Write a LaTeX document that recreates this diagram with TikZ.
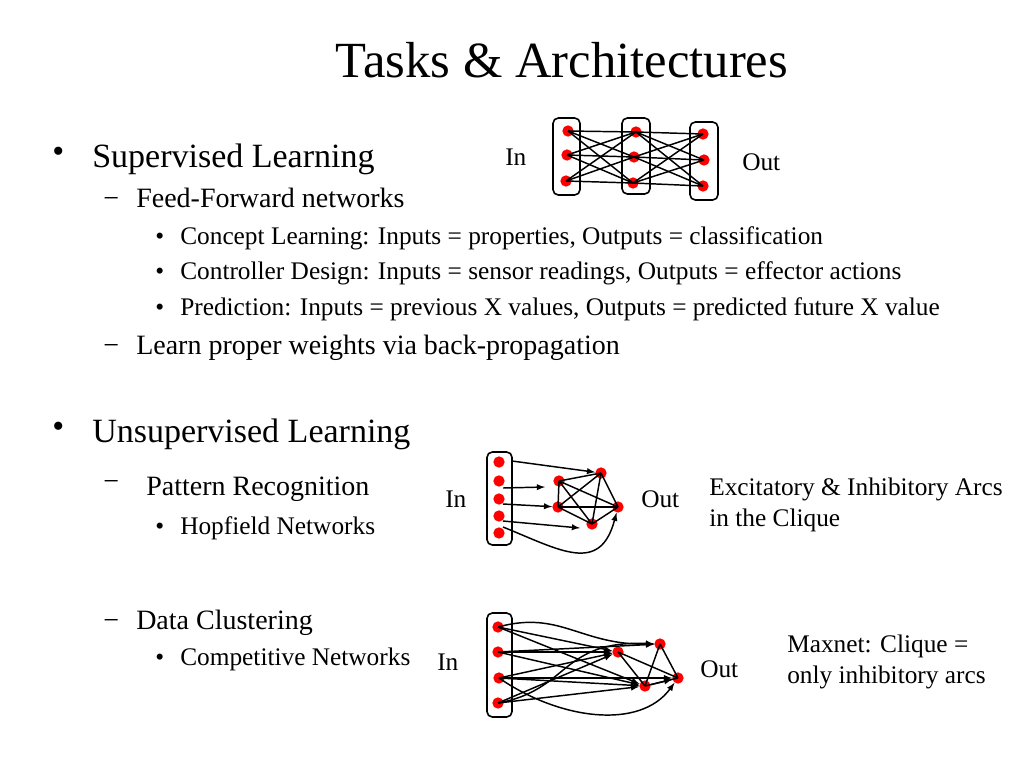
\documentclass[tikz,border=0pt]{standalone}
\usepackage{fontspec}
\setmainfont{Liberation Serif}
\begin{document}
\begin{tikzpicture}[x=0.75pt,y=-0.75pt,
  dot/.style={circle,fill=red,inner sep=0pt,minimum size=8.5pt},
  box/.style={draw,line width=1.2pt,rounded corners=4pt},
  ln/.style={line width=1.1pt},
  ar/.style={line width=1.1pt,-latex},
  t1/.style={anchor=base west,font=\fontsize{25.5}{30}\selectfont,inner sep=0pt},
  t2/.style={anchor=base west,font=\fontsize{21}{25}\selectfont,inner sep=0pt},
  t3/.style={anchor=base west,font=\fontsize{19}{23}\selectfont,inner sep=0pt},
  lab/.style={anchor=base west,font=\fontsize{19}{22}\selectfont,inner sep=0pt}]
\useasboundingbox (0,0) rectangle (1024,768);
\node[font=\fontsize{38}{44}\selectfont] (title) at (562,60) {Tasks \& Architectures};
% text
\node[t1] (b1) at (52,162) {•};
\node[t1] (s1) at (92,167) {Supervised Learning};
\node[t2] (d1) at (103,207) {−};
\node[t2] (ff) at (136,207) {Feed-Forward networks};
\node[t3] (c1) at (155,244) {•};
\node[t3] (c1t) at (180,244) {Concept Learning: Inputs = properties, Outputs = classification};
\node[t3] (c2) at (155,279) {•};
\node[t3] (c2t) at (180,279) {Controller Design: Inputs = sensor readings, Outputs = effector actions};
\node[t3] (c3) at (155,315) {•};
\node[t3] (c3t) at (180,315) {Prediction: Inputs = previous X values, Outputs = predicted future X value};
\node[t2] (d2) at (103,354) {−};
\node[t2] (lw) at (136,354) {Learn proper weights via back-propagation};
\node[t1] (b2) at (52,437) {•};
\node[t1] (s2) at (92,442) {Unsupervised Learning};
\node[t2] (d3) at (103,490) {−};
\node[t2] (pr) at (146,495) {Pattern Recognition};
\node[t3] (h1) at (155,534) {•};
\node[t3] (h1t) at (180,534) {Hopfield Networks};
\node[t2] (d4) at (103,629) {−};
\node[t2] (dc) at (136,629) {Data Clustering};
\node[t3] (k1) at (155,665) {•};
\node[t3] (k1t) at (180,665) {Competitive Networks};
% diagram 1
\node[lab] (in1) at (505,165) {In};
\node[lab] (out1) at (742,170) {Out};
\draw[box] (553,118) rectangle (580,195);
\draw[box] (622,118) rectangle (650,194);
\draw[box] (690,122) rectangle (718,200);
\node[dot] (a1) at (568,131) {}; \node[dot] (a2) at (567,155) {}; \node[dot] (a3) at (566,181) {};
\node[dot] (m1) at (636,132) {}; \node[dot] (m2) at (634,157) {}; \node[dot] (m3) at (633,183) {};
\node[dot] (o1) at (703,134) {}; \node[dot] (o2) at (704,160) {}; \node[dot] (o3) at (703,186) {};
\foreach \i in {a1,a2,a3}{\foreach \j in {m1,m2,m3}{\draw[ln] (\i.center)--(\j.center);}}
\foreach \i in {m1,m2,m3}{\foreach \j in {o1,o2,o3}{\draw[ln] (\i.center)--(\j.center);}}
% diagram 2
\node[lab] (in2) at (445,507) {In};
\node[lab] (out2) at (641,507) {Out};
\node[lab] (ex1) at (709,495) {Excitatory \& Inhibitory Arcs};
\node[lab] (ex2) at (709,526) {in the Clique};
\draw[box] (487,452) rectangle (512,545);
\node[dot] (i1) at (499,462) {}; \node[dot] (i2) at (499,481) {}; \node[dot] (i3) at (499,499) {};
\node[dot] (i4) at (499,516) {}; \node[dot] (i5) at (499,533) {};
\node[dot] (A) at (559,481) {}; \node[dot] (B) at (558,507) {}; \node[dot] (C) at (601,473) {};
\node[dot] (D) at (592,524) {}; \node[dot] (E) at (618,507) {};
\foreach \p/\q in {A/B,A/C,A/D,A/E,B/C,B/D,B/E,C/D,C/E,D/E}{\draw[ln] (\p.center)--(\q.center);}
\coordinate (q1) at (512,461); \coordinate (q2) at (503,488); \coordinate (q3) at (503,504);
\coordinate (q4) at (503,521); \coordinate (q5) at (503,527);
\draw[ar] (q1)--(C);
\draw[ar] (q2)--(545,487);
\draw[ar] (q3)--(B);
\draw[ar] (q4)--(580,528);
\draw[ar] (q5) .. controls (560,550) and (600,575) .. (E);
% diagram 3
\node[lab] (in3) at (437,670) {In};
\node[lab] (out3) at (700,677) {Out};
\node[lab] (mx1) at (787,652) {Maxnet: Clique =};
\node[lab] (mx2) at (787,683) {only inhibitory arcs};
\draw[box] (487,613) rectangle (512,717);
\node[dot] (j1) at (498,627) {}; \node[dot] (j2) at (498,652) {}; \node[dot] (j3) at (499,678) {}; \node[dot] (j4) at (498,703) {};
\node[dot] (P) at (618,652) {}; \node[dot] (Q) at (660,644) {}; \node[dot] (R) at (645,686) {}; \node[dot] (S) at (678,678) {};
\foreach \p/\q in {P/R,Q/R,Q/S,P/S,R/S}{\draw[ln] (\p.center)--(\q.center);}
\draw[ar] (j1.center) .. controls (560,610) and (580,645) .. (Q);
\draw[ar] (j1.center)--(P);
\draw[ar] (j1.center)--(R);
\draw[ar] (j2.center)--(P);
\draw[ar] (j2.center)--(Q);
\draw[ar] (j2.center)--(R);
\draw[ar] (j3.center)--(P);
\draw[ar] (j3.center)--(R);
\draw[ar] (j3.center)--(S);
\draw[ar] (j3.center) .. controls (560,720) and (640,730) .. (S);
\draw[ar] (j4.center) .. controls (570,690) and (560,640) .. (Q);
\draw[ar] (j4.center)--(P);
\draw[ar] (j4.center)--(R);
\draw[ar] (R) -- (S);
\end{tikzpicture}
\end{document}
